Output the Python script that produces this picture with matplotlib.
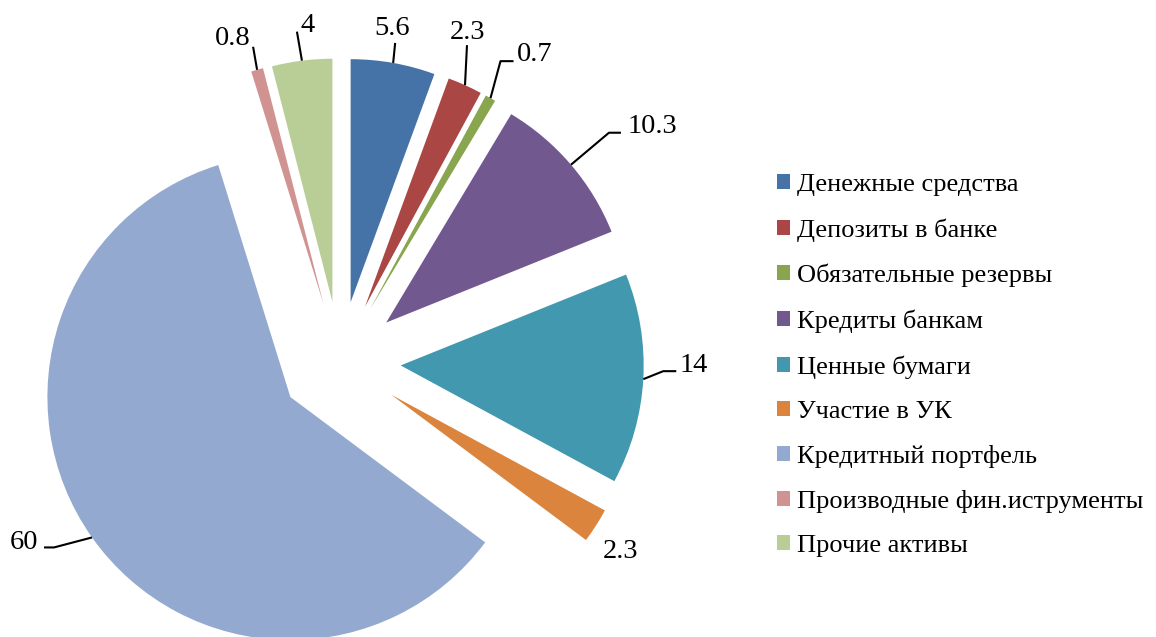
import matplotlib
matplotlib.use("Agg")
import matplotlib.pyplot as plt
import numpy as np
from matplotlib.patches import Patch

categories = ["Денежные средства", "Депозиты в банке", "Обязательные резервы",
              "Кредиты банкам", "Ценные бумаги", "Участие в УК",
              "Кредитный портфель", "Производные фин.иструменты", "Прочие активы"]
values = [5.6, 2.3, 0.7, 10.3, 14, 2.3, 60, 0.8, 4]
value_labels = ["5.6", "2.3", "0.7", "10.3", "14", "2.3", "60", "0.8", "4"]

colors = ["#4572A7", "#AA4643", "#89A54E", "#71588F", "#4198AF",
          "#DB843D", "#93A9CF", "#D19392", "#B9CD96"]

# layout (pixels relative to the wedge's outer-arc midpoint; y up)
label_offsets = [(-1, 34), (3, 53), (44, 44), (81, 38), (50, 14),
                 (25, -26), (-68, -5), (-24, 31), (6, 35)]
# leader line polylines (pixels relative to anchor), None = no line
leaders = [
    [(2, 20)],
    [(2, 40)],
    [(10, 37), (23, 37)],
    [(38, 32), (50, 32)],
    [(20, 8), (33, 8)],
    None,
    [(-38, -10), (-48, -10)],
    [(-4, 23)],
    [(-5, 29)],
]

plt.rcParams['font.family'] = ['Liberation Serif', 'DejaVu Serif']

W, H = 1156, 637
fig = plt.figure(figsize=(W / 100, H / 100), dpi=100)
ax = fig.add_axes([0, 0, 1, 1])
R = 243.0          # pixel radius
cx, cy = 340.0, 362.0  # pixel centre (image coords, y down)

explode = 0.25
wedges, _ = ax.pie(values, colors=colors, startangle=90, counterclock=False,
                   explode=[explode] * len(values), radius=1.0,
                   wedgeprops=dict(linewidth=0))
ax.set_xlim(-cx / R, (W - cx) / R)
ax.set_ylim(-(H - cy) / R, cy / R)
ax.set_aspect("auto")
ax.axis("off")

for w, lab, off, lead in zip(wedges, value_labels, label_offsets, leaders):
    ang = np.deg2rad((w.theta1 + w.theta2) / 2)
    d = np.array([np.cos(ang), np.sin(ang)])
    anchor = d * (1 + explode)
    if lead is not None:
        pts = [anchor] + [anchor + np.array(p) / R for p in lead]
        pts = np.array(pts)
        ax.plot(pts[:, 0], pts[:, 1], color="black", lw=1.5,
                solid_capstyle="butt")
    pos = anchor + np.array(off) / R
    ax.text(pos[0], pos[1], lab, ha="center", va="center", fontsize=20.5)

handles = [Patch(facecolor=c, edgecolor="none") for c in colors]
leg = fig.legend(handles, categories, loc="upper left",
                 bbox_to_anchor=(777 / W, 1 - 174 / H), frameon=False,
                 fontsize=19, handlelength=0.5, handleheight=0.5,
                 handletextpad=0.25, labelspacing=0.84, borderaxespad=0,
                 borderpad=0)

fig.savefig("out.png", dpi=100)
